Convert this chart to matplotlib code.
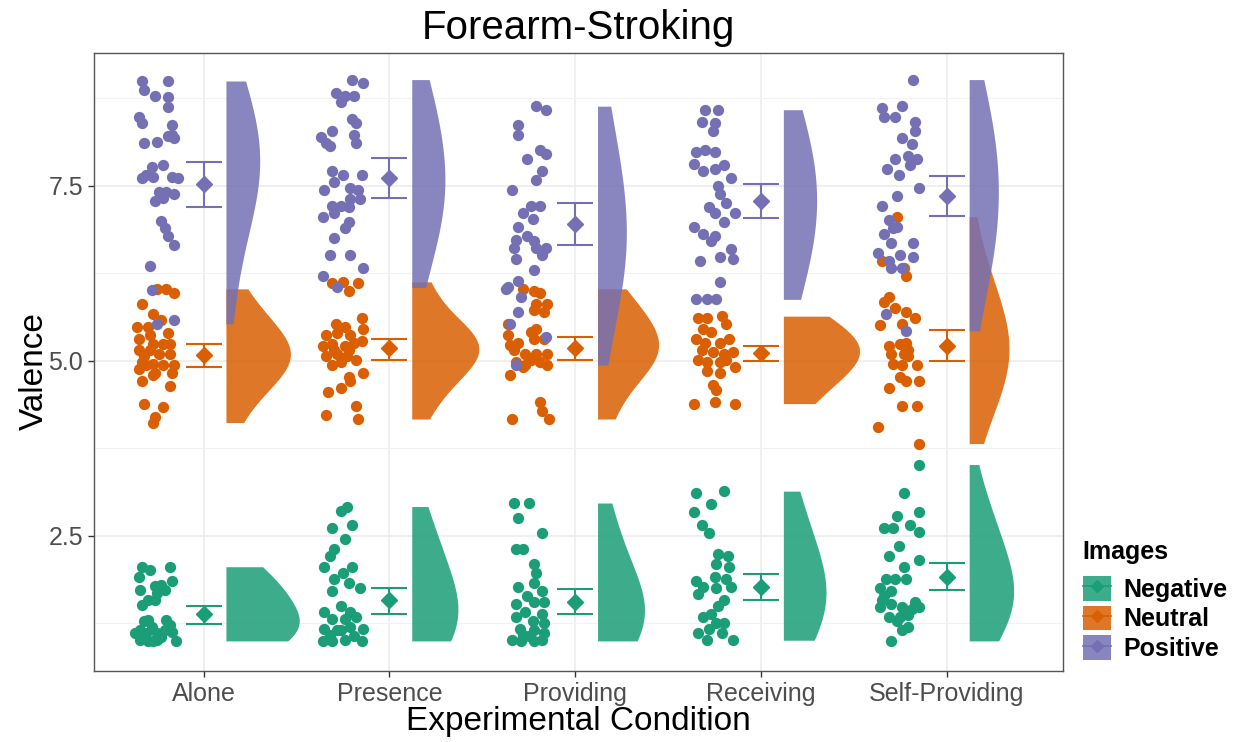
import matplotlib
matplotlib.use("Agg")
import matplotlib.pyplot as plt
from matplotlib.patches import Patch
from matplotlib.lines import Line2D
import numpy as np

plt.rcParams['font.family'] = ['Liberation Sans', 'DejaVu Sans']

conditions = ["Alone", "Presence", "Providing", "Receiving", "Self-Providing"]
images = ["Negative", "Neutral", "Positive"]
colors = {"Negative": "#1B9E77", "Neutral": "#D95F02", "Positive": "#7570B3"}

# --- raw valence ratings and their horizontal jitter ---
alone_neg = [2.06, 1.92, 2.01, 2.06, 1.73, 1.85, 1.78, 1.80, 1.73, 1.68, 1.59, 1.51, 1.59, 1.30, 1.30,
             1.16, 1.11, 1.11, 1.16, 1.01, 1.00, 1.01, 1.06, 1.13, 1.00, 1.11, 1.00, 1.20, 1.23, 1.28]
alone_neg_jit = [-0.33, -0.35, -0.29, -0.18, -0.34, -0.17, -0.26, -0.23, -0.21, -0.25, -0.30, -0.33, -0.26, -0.30, -0.20,
                 -0.34, -0.31, -0.25, -0.21, -0.34, -0.30, -0.25, -0.23, -0.17, -0.15, -0.37, -0.27, -0.28, -0.18, -0.32]
alone_neu = [6.03, 6.03, 5.97, 5.81, 5.67, 5.48, 5.48, 5.59, 5.32, 5.40, 5.24, 5.24, 5.15, 5.15, 5.24, 4.99, 4.96,
             5.10, 4.88, 4.94, 4.83, 4.94, 4.72, 4.80, 4.83, 4.64, 4.39, 4.34, 4.20, 4.12, 5.37, 5.10, 5.07, 4.94]
alone_neu_jit = [-0.25, -0.20, -0.16, -0.33, -0.27, -0.30, -0.36, -0.23, -0.35, -0.19, -0.27, -0.22, -0.35, -0.29, -0.18, -0.33, -0.27,
                 -0.18, -0.35, -0.31, -0.26, -0.16, -0.33, -0.27, -0.17, -0.18, -0.32, -0.22, -0.26, -0.27, -0.29, -0.24, -0.32, -0.22]
alone_pos = [9.00, 9.00, 8.87, 8.78, 8.77, 8.63, 8.48, 8.40, 8.37, 8.23, 8.12, 8.13, 8.21, 8.18, 7.77, 7.80, 7.66,
             7.61, 7.63, 7.63, 7.62, 7.41, 7.41, 7.39, 7.28, 7.33, 7.00, 6.90, 6.79, 6.65, 6.35, 6.02, 5.59, 5.53]
alone_pos_jit = [-0.33, -0.19, -0.32, -0.26, -0.19, -0.19, -0.35, -0.33, -0.17, -0.17, -0.32, -0.25, -0.19, -0.16, -0.28, -0.22, -0.31,
                 -0.33, -0.27, -0.17, -0.14, -0.24, -0.20, -0.16, -0.26, -0.22, -0.23, -0.21, -0.19, -0.16, -0.29, -0.28, -0.16, -0.25]

presence_neg = [2.92, 2.86, 2.62, 2.65, 2.46, 2.32, 2.21, 2.05, 2.05, 1.97, 1.88, 1.72, 1.83, 1.75, 1.50, 1.42,
                1.42, 1.31, 1.31, 1.34, 1.17, 1.15, 1.17, 1.00, 1.00, 1.01, 1.07, 1.15, 1.20, 1.00, 1.09]
presence_neg_jit = [-0.23, -0.26, -0.31, -0.20, -0.24, -0.30, -0.32, -0.35, -0.20, -0.25, -0.30, -0.31, -0.22, -0.16, -0.26, -0.35,
                    -0.21, -0.31, -0.24, -0.18, -0.35, -0.28, -0.14, -0.36, -0.31, -0.24, -0.19, -0.26, -0.21, -0.15, -0.32]
presence_neu = [6.11, 6.13, 6.11, 6.00, 5.53, 5.62, 5.48, 5.37, 5.40, 5.37, 5.45, 5.21, 5.24, 5.21, 5.26, 5.29,
                5.07, 5.10, 5.15, 4.94, 4.99, 5.02, 4.77, 4.83, 4.55, 4.61, 4.72, 4.36, 4.23, 4.17, 5.15, 5.07]
presence_neu_jit = [-0.31, -0.25, -0.17, -0.22, -0.29, -0.15, -0.24, -0.34, -0.28, -0.21, -0.14, -0.36, -0.31, -0.24, -0.19, -0.15,
                    -0.34, -0.28, -0.22, -0.31, -0.26, -0.18, -0.22, -0.14, -0.33, -0.26, -0.21, -0.18, -0.34, -0.17, -0.30, -0.23]
presence_pos = [9.02, 8.97, 8.83, 8.78, 8.78, 8.70, 8.45, 8.40, 8.20, 8.29, 8.12, 8.07, 8.23, 8.12, 7.71, 7.66, 7.66, 7.55,
                7.44, 7.47, 7.44, 7.22, 7.22, 7.31, 7.31, 7.06, 7.12, 7.20, 6.98, 6.90, 6.76, 6.52, 6.52, 6.33, 6.22, 6.05]
presence_pos_jit = [-0.20, -0.14, -0.29, -0.24, -0.19, -0.26, -0.20, -0.18, -0.37, -0.31, -0.34, -0.32, -0.19, -0.18, -0.31, -0.25, -0.15, -0.30,
                    -0.35, -0.21, -0.17, -0.31, -0.26, -0.21, -0.16, -0.36, -0.30, -0.22, -0.22, -0.24, -0.30, -0.32, -0.21, -0.14, -0.36, -0.28]

providing_neg = [2.97, 2.97, 2.76, 2.54, 2.32, 2.32, 2.10, 1.97, 1.83, 1.72, 1.77, 1.64, 1.53, 1.56, 1.56, 1.42, 1.39,
                 1.34, 1.28, 1.26, 1.17, 1.15, 1.12, 1.01, 1.09, 1.00, 1.01, 1.07, 1.00]
providing_neg_jit = [-0.33, -0.25, -0.31, -0.18, -0.32, -0.28, -0.22, -0.21, -0.22, -0.18, -0.31, -0.26, -0.32, -0.22, -0.17, -0.27, -0.18,
                     -0.32, -0.23, -0.17, -0.30, -0.22, -0.17, -0.34, -0.28, -0.22, -0.18, -0.25, -0.29]
providing_neu = [6.03, 6.00, 5.97, 5.81, 5.81, 5.70, 5.73, 5.53, 5.42, 5.45, 5.37, 5.26, 5.32, 5.32, 5.15, 5.10, 5.10, 5.10,
                 4.99, 4.94, 4.99, 4.94, 4.80, 4.91, 4.42, 4.28, 4.17, 4.17, 5.02, 5.23]
providing_neu_jit = [-0.28, -0.22, -0.19, -0.21, -0.15, -0.17, -0.22, -0.36, -0.24, -0.21, -0.36, -0.31, -0.22, -0.17, -0.33, -0.27, -0.21, -0.15,
                     -0.32, -0.27, -0.19, -0.15, -0.35, -0.28, -0.19, -0.18, -0.34, -0.14, -0.24, -0.35]
providing_pos = [8.64, 8.59, 8.37, 8.23, 8.01, 7.96, 7.88, 7.71, 7.58, 7.44, 7.22, 7.22, 7.12, 7.03, 6.92, 6.79, 6.71,
                 6.73, 6.62, 6.62, 6.62, 6.52, 6.46, 6.30, 6.14, 6.05, 5.92, 5.70, 5.53, 5.34, 4.94, 6.03]
providing_pos_jit = [-0.21, -0.16, -0.31, -0.31, -0.19, -0.16, -0.26, -0.18, -0.21, -0.34, -0.24, -0.19, -0.28, -0.23, -0.31, -0.26, -0.22,
                     -0.32, -0.33, -0.21, -0.16, -0.18, -0.32, -0.22, -0.31, -0.36, -0.29, -0.31, -0.35, -0.16, -0.32, -0.37]

receiving_neg = [3.11, 3.14, 2.95, 2.84, 2.65, 2.54, 2.24, 2.21, 2.10, 2.05, 1.86, 1.91, 1.88, 1.77, 1.75, 1.77, 1.67,
                 1.58, 1.50, 1.39, 1.34, 1.26, 1.12, 1.17, 1.12, 1.01, 1.01, 1.26]
receiving_neg_jit = [-0.35, -0.20, -0.27, -0.36, -0.32, -0.28, -0.23, -0.18, -0.24, -0.17, -0.35, -0.25, -0.19, -0.31, -0.24, -0.16, -0.34,
                     -0.20, -0.23, -0.27, -0.31, -0.24, -0.34, -0.28, -0.21, -0.15, -0.29, -0.20]
receiving_neu = [5.62, 5.62, 5.64, 5.53, 5.42, 5.32, 5.26, 5.26, 5.32, 5.13, 5.10, 5.13, 5.02, 4.99, 4.99, 5.02, 4.85,
                 4.83, 4.91, 4.66, 4.58, 4.39, 4.42, 4.39, 5.45, 5.15]
receiving_neu_jit = [-0.34, -0.29, -0.21, -0.19, -0.27, -0.35, -0.30, -0.22, -0.17, -0.26, -0.20, -0.15, -0.34, -0.29, -0.22, -0.19, -0.29,
                     -0.22, -0.14, -0.26, -0.24, -0.36, -0.25, -0.14, -0.31, -0.32]
receiving_pos = [8.59, 8.59, 8.42, 8.40, 8.29, 7.99, 8.01, 7.99, 7.82, 7.71, 7.74, 7.80, 7.61, 7.50, 7.39, 7.25, 7.20,
                 7.12, 7.12, 6.92, 6.82, 6.79, 6.98, 6.71, 6.60, 6.49, 6.46, 6.43, 6.13, 5.88, 5.89, 5.89]
receiving_pos_jit = [-0.30, -0.23, -0.32, -0.25, -0.26, -0.35, -0.30, -0.25, -0.36, -0.31, -0.25, -0.20, -0.16, -0.23, -0.22, -0.19, -0.28,
                     -0.25, -0.14, -0.36, -0.31, -0.25, -0.20, -0.27, -0.16, -0.22, -0.15, -0.33, -0.22, -0.24, -0.35, -0.29]

selfprov_neg = [3.52, 3.11, 2.78, 2.84, 2.62, 2.62, 2.65, 2.56, 2.35, 2.21, 2.05, 2.16, 1.88, 1.88, 1.75, 1.72,
                1.88, 1.58, 1.53, 1.48, 1.56, 1.45, 1.48, 1.48, 1.34, 1.34, 1.37, 1.15, 1.20, 1.00, 1.28, 1.64]
selfprov_neg_jit = [-0.15, -0.23, -0.27, -0.15, -0.34, -0.29, -0.20, -0.15, -0.26, -0.31, -0.23, -0.15, -0.33, -0.28, -0.36, -0.30,
                    -0.22, -0.35, -0.30, -0.24, -0.17, -0.19, -0.15, -0.36, -0.31, -0.25, -0.21, -0.24, -0.21, -0.30, -0.27, -0.34]
selfprov_neu = [7.06, 6.43, 6.33, 6.22, 5.92, 5.84, 5.75, 5.70, 5.62, 5.51, 5.53, 5.21, 5.24, 5.26, 5.10, 5.10, 5.07,
                4.96, 4.94, 4.94, 4.77, 4.72, 4.72, 4.61, 4.36, 4.36, 4.06, 3.82, 5.15]
selfprov_neu_jit = [-0.27, -0.35, -0.23, -0.22, -0.31, -0.34, -0.28, -0.22, -0.17, -0.36, -0.24, -0.31, -0.25, -0.22, -0.30, -0.23, -0.21,
                    -0.29, -0.24, -0.16, -0.25, -0.22, -0.15, -0.31, -0.24, -0.16, -0.37, -0.15, -0.21]
selfprov_pos = [9.02, 8.61, 8.64, 8.48, 8.48, 8.42, 8.29, 8.18, 8.10, 7.88, 7.93, 7.88, 7.74, 7.66, 7.80, 7.47, 7.36,
                7.22, 7.01, 6.92, 6.82, 6.68, 6.68, 6.54, 6.52, 6.49, 6.43, 6.33, 6.33, 5.67, 5.43, 6.90]
selfprov_pos_jit = [-0.18, -0.35, -0.24, -0.28, -0.34, -0.17, -0.17, -0.24, -0.19, -0.28, -0.21, -0.16, -0.32, -0.26, -0.20, -0.15, -0.27,
                    -0.35, -0.31, -0.27, -0.34, -0.30, -0.18, -0.37, -0.25, -0.18, -0.31, -0.30, -0.24, -0.33, -0.22, -0.29]

# --- summary: mean with lower / upper error bounds per image type (condition order) ---
neg_mean = [1.39, 1.59, 1.56, 1.77, 1.91]
neg_lo = [1.24, 1.39, 1.39, 1.59, 1.73]
neg_hi = [1.50, 1.76, 1.74, 1.96, 2.11]
neu_mean = [5.09, 5.19, 5.19, 5.11, 5.21]
neu_lo = [4.91, 5.01, 5.01, 5.00, 5.00]
neu_hi = [5.24, 5.31, 5.34, 5.21, 5.44]
pos_mean = [7.53, 7.61, 6.96, 7.29, 7.36]
pos_lo = [7.20, 7.33, 6.66, 7.04, 7.07]
pos_hi = [7.84, 7.90, 7.26, 7.53, 7.64]

raw = {
    "Alone": {"Negative": (alone_neg, alone_neg_jit), "Neutral": (alone_neu, alone_neu_jit), "Positive": (alone_pos, alone_pos_jit)},
    "Presence": {"Negative": (presence_neg, presence_neg_jit), "Neutral": (presence_neu, presence_neu_jit), "Positive": (presence_pos, presence_pos_jit)},
    "Providing": {"Negative": (providing_neg, providing_neg_jit), "Neutral": (providing_neu, providing_neu_jit), "Positive": (providing_pos, providing_pos_jit)},
    "Receiving": {"Negative": (receiving_neg, receiving_neg_jit), "Neutral": (receiving_neu, receiving_neu_jit), "Positive": (receiving_pos, receiving_pos_jit)},
    "Self-Providing": {"Negative": (selfprov_neg, selfprov_neg_jit), "Neutral": (selfprov_neu, selfprov_neu_jit), "Positive": (selfprov_pos, selfprov_pos_jit)},
}
summary = {
    "Negative": (neg_mean, neg_lo, neg_hi),
    "Neutral": (neu_mean, neu_lo, neu_hi),
    "Positive": (pos_mean, pos_lo, pos_hi),
}


def trimmed_kde(vals, adjust=2.2):
    # gaussian kde with R's bw.nrd0, evaluated only over the data range
    vals = np.asarray(vals, dtype=float)
    n = len(vals)
    q75, q25 = np.percentile(vals, [75, 25])
    spread = min(np.std(vals, ddof=1), (q75 - q25) / 1.34)
    bw = 0.9 * spread * n ** -0.2 * adjust
    grid = np.linspace(vals.min(), vals.max(), 256)
    dens = np.exp(-0.5 * ((grid[:, None] - vals[None, :]) / bw) ** 2).sum(axis=1) / (n * bw * np.sqrt(2 * np.pi))
    return grid, dens


fig = plt.figure(figsize=(12.44, 7.42), dpi=100)
ax = fig.add_axes([94 / 1244, 1 - 671 / 742, (1063 - 94) / 1244, (671 - 53) / 742])

xpos = {c: i + 1 for i, c in enumerate(conditions)}
violin_alpha = 0.85
violin_nudge = 0.12
violin_span = 0.41

# densities first so they can share one scale (scale = "area")
dens_all = {}
for c in conditions:
    for img in images:
        dens_all[(c, img)] = trimmed_kde(raw[c][img][0])
max_dens = max(d.max() for _, d in dens_all.values())

for c in conditions:
    for img in images:
        grid, dens = dens_all[(c, img)]
        x0 = xpos[c] + violin_nudge
        ax.fill_betweenx(grid, x0, x0 + dens / max_dens * violin_span,
                         color=colors[img], alpha=violin_alpha, lw=0, zorder=2)

for c in conditions:
    for img in images:
        vals, jit = raw[c][img]
        ax.scatter(xpos[c] + np.asarray(jit), vals, s=66, color=colors[img], lw=0, zorder=3)

for img in images:
    means, lo, hi = summary[img]
    x = np.arange(1, len(conditions) + 1)
    ax.errorbar(x, means, yerr=[np.subtract(means, lo), np.subtract(hi, means)], fmt='D', ms=8,
                color=colors[img], ecolor=colors[img], elinewidth=1.5, capsize=13, capthick=1.5, zorder=4)

ax.set_xlim(0.41, 5.625)
ax.set_ylim(0.57, 9.40)
ax.set_xticks(range(1, 6))
ax.set_xticklabels(conditions)
ax.set_yticks([2.5, 5.0, 7.5])
ax.set_yticklabels(["2.5", "5.0", "7.5"])
ax.set_yticks([1.25, 3.75, 6.25, 8.75], minor=True)
ax.tick_params(axis='both', which='major', labelsize=18, labelcolor='#4D4D4D', color='#333333', length=4, width=1, pad=4)
ax.tick_params(axis='y', which='minor', length=0)
ax.grid(True, which='major', color='#EBEBEB', lw=1.1, zorder=0)
ax.grid(True, which='minor', axis='y', color='#F2F2F2', lw=0.8, zorder=0)
ax.set_axisbelow(True)
for sp in ax.spines.values():
    sp.set_color('#555555')
    sp.set_linewidth(1.0)

fig.text(0.465, 0.962, "Forearm-Stroking", ha='center', va='center', fontsize=29)
fig.text(0.465, 0.027, "Experimental Condition", ha='center', va='center', fontsize=24)
fig.text(0.028, 0.5, "Valence", ha='center', va='center', rotation=90, fontsize=24)

handles = [(Patch(facecolor=colors[img], alpha=violin_alpha, lw=0),
            Line2D([], [], color=colors[img], marker='D', ms=6, lw=1.2)) for img in images]
leg = fig.legend(handles, images, loc='upper left', bbox_to_anchor=(1060 / 1244, 1 - 517 / 742),
                 frameon=False, title="Images", alignment='left', handlelength=1.15, handleheight=1.15,
                 labelspacing=0.15, handletextpad=0.5,
                 prop={'size': 18, 'weight': 'bold'}, title_fontproperties={'size': 18, 'weight': 'bold'})
leg._legend_box.sep = 9

fig.savefig("out.png", dpi=100)
